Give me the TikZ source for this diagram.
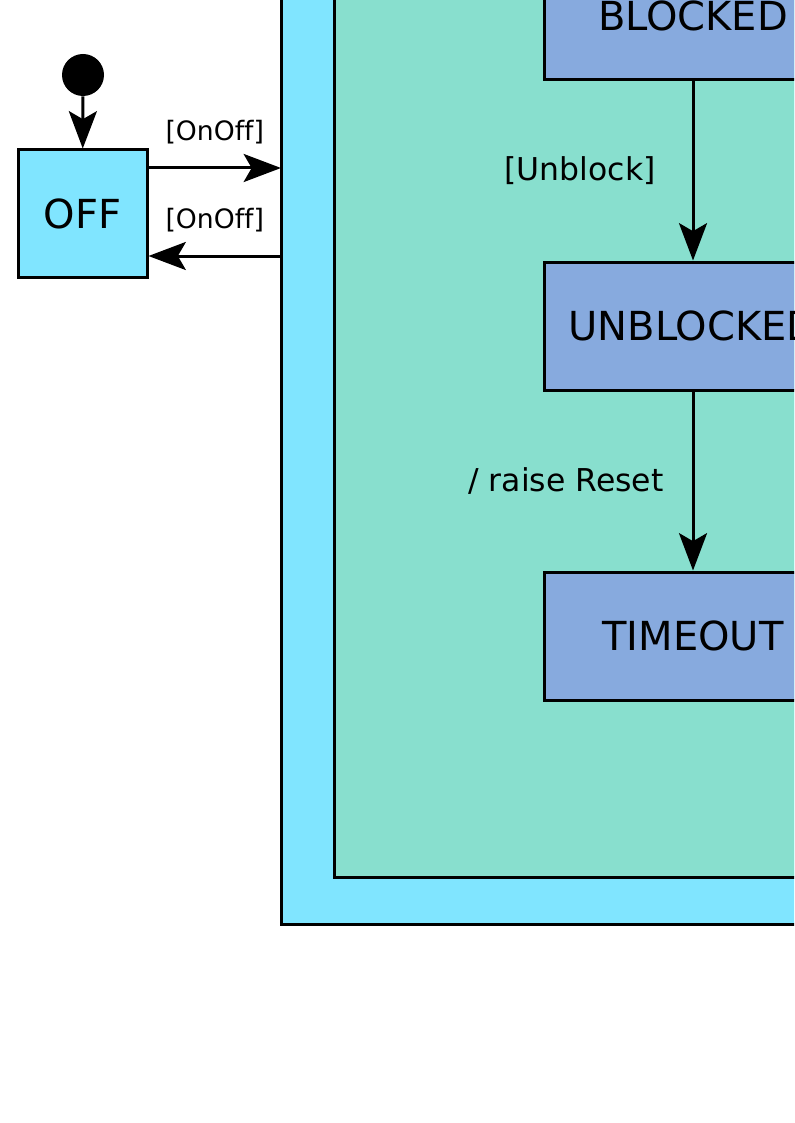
\documentclass[tikz,border=0pt]{standalone}
\usepackage{fontspec}
\setmainfont[Ligatures=NoCommon]{DejaVu Sans}
\usetikzlibrary{arrows.meta}

\begin{document}
\begin{tikzpicture}[x=0.75pt, y=-0.75pt,
    state/.style={draw, line width=2.25pt, fill=statecolor, minimum width=223.5pt,
      minimum height=96pt, inner sep=0pt, font=\fontsize{30}{36}\selectfont},
    region/.style={draw, line width=2.25pt, anchor=south west, inner sep=0pt, outer sep=0pt},
    trans/.style={line width=2.25pt, -{Stealth[length=28pt, width=21pt, inset=6pt]}},
    guard/.style={inner sep=0pt, font=\fontsize{23.6}{28}\selectfont}]
        \definecolor{outercolor}{RGB}{128,229,255}
        \definecolor{innercolor}{RGB}{136,223,206}
        \definecolor{statecolor}{RGB}{135,170,222}

        \useasboundingbox (0,0) rectangle (794,1123);
        \clip (0,0) rectangle (794,1123);

        % composite states
        \node[region, fill=outercolor, minimum width=525pt, minimum height=750pt] (on) at (281,924) {};
        \node[region, fill=innercolor, minimum width=480pt, minimum height=720pt] (active) at (334,877) {};

        \node[state] (blocked) at (693,16) {BLOCKED};
        \node[state] (unblocked) at (693,326) {UNBLOCKED};
        \node[state] (timeout) at (693,636) {TIMEOUT};

        \node[state, fill=outercolor, minimum width=96.75pt, minimum height=95.25pt] (off) at (82.5,213.5) {OFF};
        \node[circle, fill=black, minimum size=31.5pt, inner sep=0pt] (init) at (83,75) {};

        \draw[trans] (init) -- (off);
        \draw[trans] (off.east |- 0,168) -- node[above=17pt, guard, font=\fontsize{20}{24}\selectfont] {[OnOff]} (on.west |- 0,168);
        \draw[trans] (on.west |- 0,256) -- node[above=17pt, guard, font=\fontsize{20}{24}\selectfont] {[OnOff]} (off.east |- 0,256);

        \draw[trans] (blocked) -- node[left=27pt, guard] {[Unblock]} (unblocked);
        \draw[trans] (unblocked) -- node[left=21pt, guard] {/ raise Reset} (timeout);
    \end{tikzpicture}
\end{document}
